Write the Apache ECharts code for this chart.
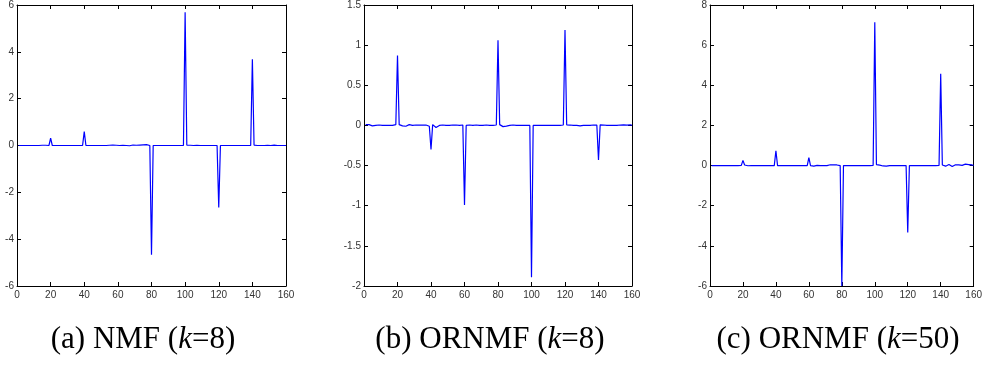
<!DOCTYPE html>
<html>
<head>
<meta charset="utf-8">
<script src="https://cdn.jsdelivr.net/npm/echarts@6/dist/echarts.min.js"></script>
<style>html,body{margin:0;padding:0;background:#fff;}#c{width:985px;height:375px;}</style>
</head>
<body>
<div id="c"></div>
<script>
// Sample index runs 1..160
var xTicks = [0, 20, 40, 60, 80, 100, 120, 140, 160];

var nmfK8 = [
  0,0,0,0,0,0,0,0,0,0,0,0,0,0,0.01,0,0.01,0,0,0.32,
  0,0,0,0,0,0,0,0,0,0,0,0,0,0,0,0,0,0,0,0.59,
  0,0,0,0,0,0,0,0,0,0,0,0,0,0,0.01,-0.01,0.02,0,0.01,0.02,
  0,-0.01,0.01,0.02,0,0.01,-0.01,0.01,0.02,0,0.01,0,0.02,0.01,0.03,0.02,0.04,0.02,0,-4.67,
  0,0,0,0,0,0,0,0,0,0,0,0,0,0,0,0,0,0,0,5.69,
  0.02,0,0.01,0.03,0,0.02,0.01,0,0,0,0,0,0,0,0,0,0,0,0,-2.65,
  0,0,0,0,0,0,0,0,0,0,0,0,0,0,0,0,0,0,0,3.68,
  0.02,0,0,0,0,0,0,0,0.01,0.02,0,0.01,0.02,0,0,0,0,0,0,0
];

var ornmfK8 = [
  0.01,0.005,0.01,0,-0.005,0.005,0,-0.005,0.005,0.01,0,-0.005,0,0.005,0,0.005,0,0.005,0.01,0.87,
  0.01,0.005,-0.005,0,-0.01,0.005,0.01,-0.005,0,0.005,0.005,0.01,0.005,0.01,0.005,0,0.005,-0.005,-0.01,-0.30,
  0.01,0,-0.025,-0.015,0,0.01,0.005,-0.005,0,0.005,0,0.012,0.005,0,0.005,0.008,0,0,0.005,-0.99,
  0,0,0.005,0,0,0,0.005,0,0,0,0,0,0.005,0,0,0,0,0,0.005,1.06,
  0.01,0,-0.015,0.005,-0.008,0.008,0,-0.008,0.005,0,0,0,0,0,0,0,0,0,0,-1.89,
  0,0,0,0,0,0,0,0,0,0,0,0,0,0,0,0,0,0,0.005,1.19,
  0.008,0,0.005,-0.008,0,0.008,0,0.005,-0.005,0.008,0,0.005,0,0.008,0,-0.005,0.005,0.008,0.005,-0.43,
  0.008,0,0.005,-0.005,0,0.005,0,-0.005,0,0.005,0,-0.005,0.005,0,0.008,-0.005,0.005,0.012,0.008,0
];

var ornmfK50 = [
  0,0,0,0,0,0,0,0,0,0,0,0,0,0,0,0,0,0,0.01,0.26,
  0.03,0,-0.01,0,0,0,0,0,0,0,0,0.01,0,0,0,0,0,0,0,0.74,
  0,0,0,0,0,-0.02,0,0,0,0.01,0,0,0,0,0,0,0,0,0,0.39,
  0,0.02,-0.03,0,0.01,0,0,0,0,0.03,0,0.02,0.04,0.02,0.03,0.05,0.03,0.04,0,-6,
  0,0,0,0,0,0,0,0,0,0,0,0,0,0,0,0,0,0,0.01,7.14,
  0.05,0,0.02,0.04,-0.02,0,-0.03,0.01,0,0.06,0,-0.04,0,0,0,0,0,0,0,-3.34,
  0,0,0,0,0,0,0,0,0,0,0,0,0,0,0,0,0,0,0.01,4.57,
  0.03,0,-0.03,0.02,0.05,0.02,-0.05,-0.02,0.04,-0.03,0.03,0.06,0.01,0.04,0.07,0.02,0.05,0.07,0.03,0.01
];

var yTicksA = [-6, -4, -2, 0, 2, 4, 6];
var yTicksB = [-2, -1.5, -1, -0.5, 0, 0.5, 1, 1.5];
var yTicksC = [-6, -4, -2, 0, 2, 4, 6, 8];

var captions = ['(a) NMF ({i|k}=8)', '(b) ORNMF ({i|k}=8)', '(c) ORNMF ({i|k}=50)'];

var panels = [
  { values: nmfK8, yTicks: yTicksA, left: 17, width: 269, cap: 143 },
  { values: ornmfK8, yTicks: yTicksB, left: 364, width: 268, cap: 490 },
  { values: ornmfK50, yTicks: yTicksC, left: 710, width: 269, cap: 838 }
];

var labelStyle = { fontSize: 10, color: '#333', fontFamily: 'Liberation Sans' };
var grids = [], xAxes = [], yAxes = [], series = [], graphics = [];

panels.forEach(function (p, i) {
  grids.push({ left: p.left, top: 5, width: p.width, height: 281, show: false });
  var yt = p.yTicks;
  var yInt = yt[1] - yt[0];
  var common = {
    axisLine: { show: true, onZero: false, lineStyle: { color: '#000', width: 1 } },
    axisTick: { show: true, inside: true, length: 4, lineStyle: { color: '#000', width: 1 } },
    splitLine: { show: false }
  };
  xAxes.push(Object.assign({ type: 'value', gridIndex: i, position: 'bottom', min: xTicks[0], max: xTicks[xTicks.length - 1], interval: xTicks[1] - xTicks[0],
    axisLabel: Object.assign({ show: true, margin: 4 }, labelStyle) }, common));
  xAxes.push(Object.assign({ type: 'value', gridIndex: i, position: 'top', min: xTicks[0], max: xTicks[xTicks.length - 1], interval: xTicks[1] - xTicks[0],
    axisLabel: { show: false } }, common));
  yAxes.push(Object.assign({ type: 'value', gridIndex: i, position: 'left', min: yt[0], max: yt[yt.length - 1], interval: yInt,
    axisLabel: Object.assign({ show: true, margin: 3, showMinLabel: true, showMaxLabel: true }, labelStyle) }, common));
  yAxes.push(Object.assign({ type: 'value', gridIndex: i, position: 'right', min: yt[0], max: yt[yt.length - 1], interval: yInt,
    axisLabel: { show: false } }, common));
  series.push({
    type: 'line', xAxisIndex: 2 * i, yAxisIndex: 2 * i, showSymbol: false, silent: true, animation: false,
    lineStyle: { color: '#0000ff', width: 1.2 },
    data: p.values.map(function (v, k) { return [k + 1, v]; })
  });
  graphics.push({
    type: 'text', x: p.cap, y: 340,
    style: { text: captions[i], fill: '#000', font: '31px "Liberation Serif"', textAlign: 'center', textVerticalAlign: 'middle',
      rich: { i: { fontStyle: 'italic', fontSize: 31, fontFamily: 'Liberation Serif' } } }
  });
});

var chart = echarts.init(document.getElementById('c'), null, { renderer: 'canvas' });
chart.setOption({
  animation: false,
  grid: grids,
  xAxis: xAxes,
  yAxis: yAxes,
  series: series,
  graphic: graphics
});
</script>
</body>
</html>
